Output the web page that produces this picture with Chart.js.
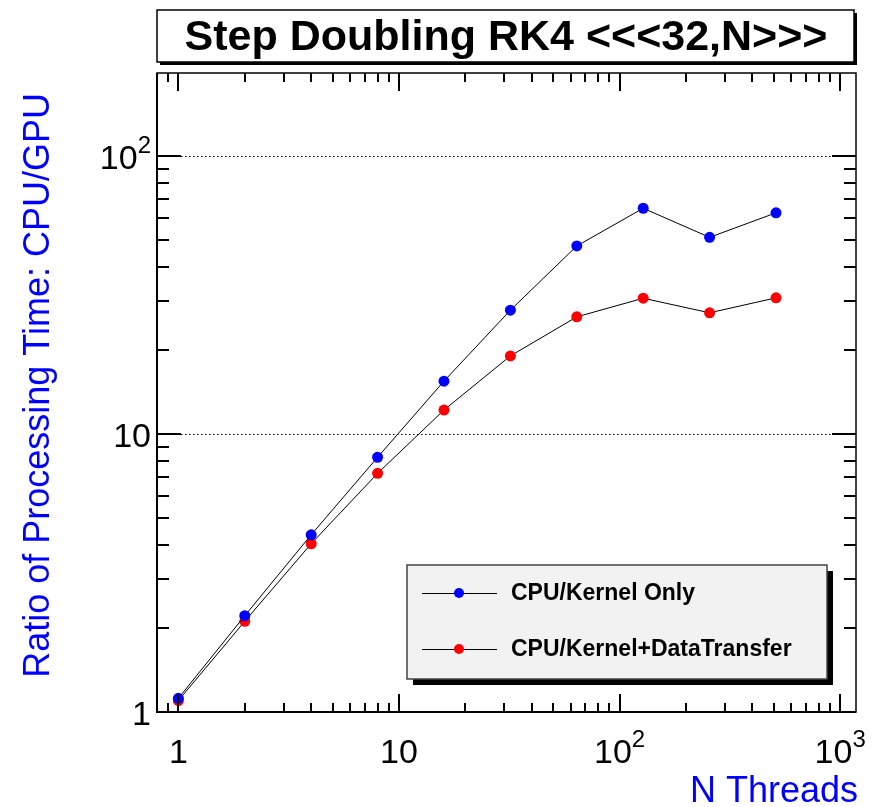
<!DOCTYPE html>
<html>
<head>
<meta charset="utf-8">
<script src="https://cdn.jsdelivr.net/npm/chart.js@4/dist/chart.umd.min.js"></script>
<style>
  html, body { margin: 0; padding: 0; background: #fff; }
  #caixa { width: 872px; height: 807px; position: relative; }
</style>
</head>
<body>
<div id="caixa"><canvas id="grafico-rk4"></canvas></div>
<script>
// dados
const nThreads = [1, 2, 4, 8, 16, 32, 64, 128, 256, 512];
const razaoKernel = [1.12, 2.22, 4.34, 8.25, 15.5, 27.9, 47.5, 64.9, 51.0, 62.5];
const razaoKernelTransf = [1.10, 2.12, 4.03, 7.22, 12.2, 19.1, 26.4, 30.8, 27.3, 30.9];
const rotulosSeries = ['CPU/Kernel Only', 'CPU/Kernel+DataTransfer'];
const coresSeries = ['#0000ff', '#ff0000'];
const xMarcasMaiores = [1, 10, 100, 1000];
const xRotulos = [['1', ''], ['10', ''], ['10', '2'], ['10', '3']];
const yMarcasMaiores = [1, 10, 100];
const yRotulos = [['1', ''], ['10', ''], ['10', '2']];
const tituloGrafico = 'Step Doubling RK4 <<<32,N>>>';
const tituloX = 'N Threads';
const tituloY = 'Ratio of Processing Time: CPU/GPU';

const FONTE = '"Liberation Sans", Arial, Helvetica, sans-serif';

function marcasLog(min, max) {
  const out = [];
  for (let e = Math.floor(Math.log10(min)); e <= Math.ceil(Math.log10(max)); e++) {
    for (let k = 1; k < 10; k++) {
      const v = k * Math.pow(10, e);
      if (v > min * 1.001 && v < max * 0.999) out.push({ v, maior: k === 1 });
    }
  }
  return out;
}

// rótulo com expoente (10², 10³) no estilo ROOT
function rotuloPot(ctx, partes, px, py, alinhar) {
  const [base, exp] = partes;
  ctx.font = `34px ${FONTE}`;
  const wb = ctx.measureText(base).width;
  ctx.font = `24px ${FONTE}`;
  const we = exp ? ctx.measureText(exp).width : 0;
  const total = wb + we;
  let x0 = alinhar === 'right' ? px - total : px - total / 2;
  if (alinhar === 'center' && exp) x0 = px - wb / 2 - we / 2;
  ctx.textAlign = 'left';
  ctx.textBaseline = 'alphabetic';
  ctx.font = `34px ${FONTE}`;
  ctx.fillText(base, x0, py);
  if (exp) {
    ctx.font = `24px ${FONTE}`;
    ctx.fillText(exp, x0 + wb, py - 16);
  }
}

const molduraRoot = {
  id: 'molduraRoot',
  beforeDatasetsDraw(chart) {
    const { ctx, chartArea: a, scales: { y } } = chart;
    ctx.save();
    ctx.strokeStyle = '#000';
    ctx.lineWidth = 1;
    ctx.setLineDash([1.5, 2.5]);
    yMarcasMaiores.forEach(v => {
      const py = Math.round(y.getPixelForValue(v)) + 0.5;
      if (py > a.top + 2 && py < a.bottom - 2) {
        ctx.beginPath(); ctx.moveTo(a.left, py); ctx.lineTo(a.right, py); ctx.stroke();
      }
    });
    ctx.restore();
  },
  afterDraw(chart) {
    const { ctx, chartArea: a, scales: { x, y } } = chart;
    ctx.save();

    // moldura
    ctx.strokeStyle = '#000';
    ctx.lineWidth = 1.5;
    ctx.strokeRect(a.left, a.top, a.right - a.left, a.bottom - a.top);
    ctx.lineWidth = 2;
    ctx.beginPath();
    ctx.moveTo(a.left, a.top); ctx.lineTo(a.left, a.bottom); ctx.lineTo(a.right, a.bottom);
    ctx.stroke();

    // marcas do eixo x (baixo e topo)
    marcasLog(x.min, x.max).forEach(m => {
      const px = Math.round(x.getPixelForValue(m.v));
      const len = m.maior ? 18 : 9;
      ctx.beginPath();
      ctx.moveTo(px, a.bottom); ctx.lineTo(px, a.bottom - len);
      ctx.moveTo(px, a.top); ctx.lineTo(px, a.top + len);
      ctx.stroke();
    });
    // marcas do eixo y (esquerda e direita)
    marcasLog(y.min, y.max).forEach(m => {
      const py = Math.round(y.getPixelForValue(m.v));
      const len = m.maior ? 24 : 12;
      ctx.beginPath();
      ctx.moveTo(a.left, py); ctx.lineTo(a.left + len, py);
      ctx.moveTo(a.right, py); ctx.lineTo(a.right - len, py);
      ctx.stroke();
    });

    // rótulos das marcas
    ctx.fillStyle = '#000';
    xMarcasMaiores.forEach((v, i) => {
      rotuloPot(ctx, xRotulos[i], x.getPixelForValue(v), a.bottom + 51, 'center');
    });
    yMarcasMaiores.forEach((v, i) => {
      rotuloPot(ctx, yRotulos[i], a.left - 6, y.getPixelForValue(v) + 13, 'right');
    });

    // títulos dos eixos
    ctx.fillStyle = '#0000ff';
    ctx.font = `36px ${FONTE}`;
    ctx.textAlign = 'right';
    ctx.textBaseline = 'alphabetic';
    ctx.fillText(tituloX, a.right + 2, 802);
    ctx.save();
    ctx.translate(49, 93);
    ctx.rotate(-Math.PI / 2);
    ctx.fillText(tituloY, 0, 0);
    ctx.restore();

    // caixa do título
    ctx.fillStyle = '#000';
    ctx.fillRect(160, 13, 697, 52);
    ctx.fillStyle = '#fff';
    ctx.fillRect(157, 10, 697, 52);
    ctx.strokeStyle = '#000';
    ctx.lineWidth = 1.5;
    ctx.strokeRect(157, 10, 697, 52);
    ctx.fillStyle = '#000';
    ctx.font = `bold 43px ${FONTE}`;
    ctx.textAlign = 'center';
    ctx.textBaseline = 'middle';
    ctx.fillText(tituloGrafico, 506, 38);

    // legenda
    ctx.fillStyle = '#000';
    ctx.fillRect(413, 571, 420, 114);
    ctx.fillStyle = '#f2f2f2';
    ctx.fillRect(407, 565, 420, 114);
    ctx.strokeStyle = '#444';
    ctx.lineWidth = 1.5;
    ctx.strokeRect(407, 565, 420, 114);
    chart.data.datasets.forEach((ds, i) => {
      const ly = 593 + i * 56;
      ctx.strokeStyle = '#000';
      ctx.lineWidth = 1;
      ctx.beginPath(); ctx.moveTo(422, ly + 0.5); ctx.lineTo(497, ly + 0.5); ctx.stroke();
      ctx.fillStyle = ds.pointBackgroundColor;
      ctx.beginPath(); ctx.arc(459, ly, 5, 0, Math.PI * 2); ctx.fill();
      ctx.fillStyle = '#000';
      ctx.font = `bold 23px ${FONTE}`;
      ctx.textAlign = 'left';
      ctx.textBaseline = 'middle';
      ctx.fillText(ds.label, 511, ly + 1);
    });

    ctx.restore();
  }
};

document.addEventListener('DOMContentLoaded', function () {
  const contexto = document.getElementById('grafico-rk4').getContext('2d');
  const montarSerie = (valores, i) => ({
    label: rotulosSeries[i],
    data: nThreads.map((n, j) => ({ x: n, y: valores[j] })),
    borderColor: '#000',
    borderWidth: 1,
    backgroundColor: coresSeries[i],
    pointBackgroundColor: coresSeries[i],
    pointBorderWidth: 0,
    pointRadius: 5.5,
    tension: 0,
    fill: false
  });

  window.graficoRK4 = new Chart(contexto, {
    type: 'line',
    data: { datasets: [montarSerie(razaoKernel, 0), montarSerie(razaoKernelTransf, 1)] },
    plugins: [molduraRoot],
    options: {
      responsive: true,
      maintainAspectRatio: false,
      animation: false,
      layout: { padding: { top: 73, right: 16, left: 0, bottom: 0 } },
      plugins: { legend: { display: false }, title: { display: false }, tooltip: { enabled: false } },
      scales: {
        x: {
          type: 'logarithmic',
          min: 0.8,
          max: 1180,
          grid: { display: false, drawTicks: false },
          border: { display: false },
          afterBuildTicks: s => { s.ticks = xMarcasMaiores.map(v => ({ value: v })); },
          afterFit: s => { s.height = 95; },
          ticks: { display: false }
        },
        y: {
          type: 'logarithmic',
          min: 1,
          max: 199,
          grid: { display: false, drawTicks: false },
          border: { display: false },
          afterBuildTicks: s => { s.ticks = yMarcasMaiores.map(v => ({ value: v })); },
          afterFit: s => { s.width = 157; },
          ticks: { display: false }
        }
      }
    }
  });
});
</script>
</body>
</html>
